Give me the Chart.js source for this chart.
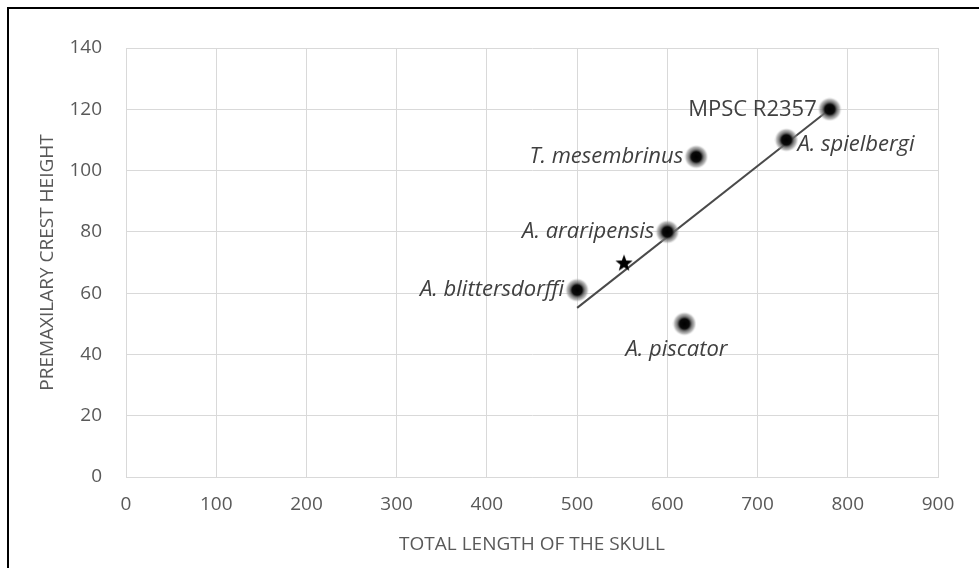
<!DOCTYPE html>
<html>
<head>
<meta charset="utf-8">
<script src="https://cdn.jsdelivr.net/npm/chart.js@4.4.1/dist/chart.umd.min.js"></script>
<style>
  html, body { margin: 0; padding: 0; background: #fff; }
  #wrap { position: relative; width: 979px; height: 568px; }
  #frame { position: absolute; left: 7px; top: 7px; right: 0; bottom: 0;
           border-top: 2px solid #000; border-left: 2px solid #000; pointer-events: none; }
  canvas { display: block; }
</style>
</head>
<body>
<div id="wrap">
  <canvas id="c" width="979" height="568"></canvas>
  <div id="frame"></div>
</div>
<script>
// ---- Data ----
const taxa      = ['MPSC R2357', 'A. spielbergi', 'T. mesembrinus', 'A. araripensis', 'A. blittersdorffi', 'A. piscator'];
const skullLen  = [780, 732, 632, 600, 500, 619];
const crestH    = [120, 110, 104.5, 80, 61, 50];
const labelSide = ['left', 'right', 'left', 'left', 'left', 'below'];
const labelItalic = [false, true, true, true, true, true];
const starX = [552];
const starY = [70];
const trendX = [500, 780];
const trendY = [55.2, 120];
const xTicks = [0, 100, 200, 300, 400, 500, 600, 700, 800, 900];
const yTicks = [0, 20, 40, 60, 80, 100, 120, 140];

// filled star image for the marker
function makeStar(size) {
  const cv = document.createElement('canvas');
  cv.width = size; cv.height = size;
  const g = cv.getContext('2d');
  const cx = size / 2, cy = size / 2 + 1, R = size / 2, r = R * 0.42;
  g.beginPath();
  for (let i = 0; i < 10; i++) {
    const a = -Math.PI / 2 + i * Math.PI / 5;
    const rr = i % 2 === 0 ? R : r;
    g.lineTo(cx + rr * Math.cos(a), cy + rr * Math.sin(a));
  }
  g.closePath();
  g.fillStyle = '#000';
  g.fill();
  return cv;
}
// soft dot with grey halo
function makeDot(size) {
  const cv = document.createElement('canvas');
  cv.width = size; cv.height = size;
  const g = cv.getContext('2d');
  const c = size / 2;
  const grd = g.createRadialGradient(c, c, 0, c, c, c);
  grd.addColorStop(0.0, 'rgba(0,0,0,1)');
  grd.addColorStop(0.42, 'rgba(10,10,10,1)');
  grd.addColorStop(0.58, 'rgba(90,90,90,0.9)');
  grd.addColorStop(0.82, 'rgba(140,140,140,0.6)');
  grd.addColorStop(1.0, 'rgba(200,200,200,0)');
  g.fillStyle = grd;
  g.beginPath();
  g.arc(c, c, c, 0, Math.PI * 2);
  g.fill();
  return cv;
}
const starImg = makeStar(18);
const dotImg = makeDot(24);

const labelPlugin = {
  id: 'pointLabels',
  afterDatasetsDraw(chart) {
    const ctx = chart.ctx;
    const meta = chart.getDatasetMeta(1);
    ctx.save();
    ctx.fillStyle = '#404040';
    meta.data.forEach((pt, i) => {
      ctx.font = (labelItalic[i] ? 'italic ' : '') + '22px "Open Sans", sans-serif';
      const side = labelSide[i];
      ctx.textBaseline = 'middle';
      if (side === 'left') {
        ctx.textAlign = 'right';
        ctx.fillText(taxa[i], pt.x - 13, pt.y);
      } else if (side === 'right') {
        ctx.textAlign = 'left';
        ctx.fillText(taxa[i], pt.x + 11, pt.y + 5);
      } else {
        ctx.textAlign = 'center';
        ctx.fillText(taxa[i], pt.x - 8, pt.y + 26);
      }
    });
    ctx.restore();
  }
};

new Chart(document.getElementById('c'), {
  type: 'scatter',
  data: {
    datasets: [
      {
        type: 'line',
        data: trendX.map((x, i) => ({ x: x, y: trendY[i] })),
        borderColor: '#4a4a4a',
        borderWidth: 2,
        pointRadius: 0,
        fill: false,
        order: 3
      },
      {
        data: skullLen.map((x, i) => ({ x: x, y: crestH[i] })),
        pointStyle: dotImg,
        pointRadius: 10,
        order: 1
      },
      {
        data: starX.map((x, i) => ({ x: x, y: starY[i] })),
        pointStyle: starImg,
        pointRadius: 9,
        order: 0
      }
    ]
  },
  options: {
    responsive: false,
    animation: false,
    events: [],
    layout: { padding: { left: 0, top: 48, right: 41, bottom: 0 } },
    plugins: { legend: { display: false }, tooltip: { enabled: false } },
    scales: {
      x: {
        type: 'linear',
        min: 0, max: 900,
        afterBuildTicks: (s) => { s.ticks = xTicks.map(v => ({ value: v })); },
        afterFit: (s) => { s.height = 91; },
        grid: { color: '#d9d9d9', lineWidth: 1, drawTicks: false },
        border: { color: '#d9d9d9' },
        ticks: { color: '#595959', font: { family: '"Open Sans", sans-serif', size: 19 }, padding: 16, maxRotation: 0 },
        title: {
          display: true, text: 'TOTAL LENGTH OF THE SKULL', color: '#595959',
          font: { family: '"Open Sans", sans-serif', size: 19 },
          padding: { top: 0, bottom: 12 }
        }
      },
      y: {
        type: 'linear',
        min: 0, max: 140,
        afterBuildTicks: (s) => { s.ticks = yTicks.map(v => ({ value: v })); },
        afterFit: (s) => { s.width = 126; },
        grid: { color: '#d9d9d9', lineWidth: 1, drawTicks: false },
        border: { color: '#d9d9d9' },
        ticks: { color: '#595959', font: { family: '"Open Sans", sans-serif', size: 19 }, padding: 24 },
        title: {
          display: true, text: 'PREMAXILARY CREST HEIGHT', color: '#595959',
          font: { family: '"Open Sans", sans-serif', size: 19 },
          padding: { top: 36, bottom: 0 }
        }
      }
    }
  },
  plugins: [labelPlugin]
});
</script>
</body>
</html>
